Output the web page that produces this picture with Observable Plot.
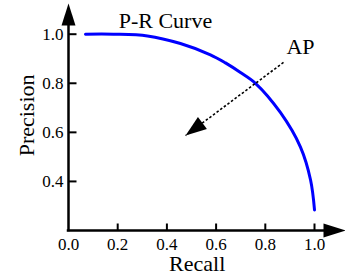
<!DOCTYPE html>
<html><head><meta charset="utf-8">
<script src="https://cdn.jsdelivr.net/npm/d3@7"></script>
<script src="https://cdn.jsdelivr.net/npm/@observablehq/plot@0.6"></script>
<style>body{margin:0;background:#fff} svg{display:block} svg text{font-family:'Liberation Serif','Times New Roman',serif}</style>
</head><body><div id="chart"></div>
<script>
// P-R curve
const recall    = [0.069, 0.183, 0.321, 0.455, 0.577, 0.638, 0.699, 0.760, 0.862, 0.943, 0.984, 1.000];
const precision = [1.000, 1.000, 0.993, 0.962, 0.916, 0.883, 0.844, 0.800, 0.680, 0.540, 0.406, 0.284];

const xTicks = [0, 0.2, 0.4, 0.6, 0.8, 1.0];
const xTickLabels = ["0.0", "0.2", "0.4", "0.6", "0.8", "1.0"];
const yTicks = [0.4, 0.6, 0.8, 1.0];
const yTickLabels = ["0.4", "0.6", "0.8", "1.0"];

const annotText = ["P-R Curve", "AP"];
const annotX = [0.394, 0.943];
const annotY = [1.056, 0.950];

const apFrom = [0.874, 0.885];
const apTo = [0.476, 0.587];

const xDomain = [0, 1];
const yDomain = [0.2, 1];
const xTip = 1.126;
const yTip = 1.125;

const FONT = "'Liberation Serif', 'Times New Roman', serif";
const W = 345, H = 275, mL = 68, mR = 31, mT = 33.7, mB = 45;
const sx = (W - mL - mR) / (xDomain[1] - xDomain[0]);
const sy = (H - mT - mB) / (yDomain[1] - yDomain[0]);

function tri(angle, len, halfW) {
  return {
    draw(ctx) {
      const c = Math.cos(angle), s = Math.sin(angle);
      const bx = -len * c, by = -len * s;
      const px = -s * halfW, py = c * halfW;
      ctx.moveTo(0, 0);
      ctx.lineTo(bx + px, by + py);
      ctx.lineTo(bx - px, by - py);
      ctx.closePath();
    }
  };
}
const yTickSym = {draw(ctx) { ctx.moveTo(0, 0); ctx.lineTo(8, 0); }};
const xTickSym = {draw(ctx) { ctx.moveTo(0, 0); ctx.lineTo(0, -7); }};

const apAngle = Math.atan2(-(apTo[1] - apFrom[1]) * sy, (apTo[0] - apFrom[0]) * sx);

const curve = recall.map((r, i) => ({r, p: precision[i]}));
const annots = annotText.map((t, i) => ({t, x: annotX[i], y: annotY[i]}));
const xt = xTicks.map((v, i) => ({v, l: xTickLabels[i]}));
const yt = yTicks.map((v, i) => ({v, l: yTickLabels[i]}));

const chart = Plot.plot({
  width: W, height: H,
  marginLeft: mL, marginRight: mR, marginTop: mT, marginBottom: mB,
  x: {domain: xDomain, axis: null},
  y: {domain: yDomain, axis: null},
  style: {fontFamily: FONT, background: "white", overflow: "visible", color: "black"},
  marks: [
    // axes
    Plot.ruleX([0], {y1: yDomain[0], y2: yTip - 0.05, stroke: "black", strokeWidth: 2.5, strokeLinecap: "square"}),
    Plot.ruleY([yDomain[0]], {x1: 0, x2: xTip - 0.05, stroke: "black", strokeWidth: 2.5, strokeLinecap: "square"}),
    Plot.dot([0], {x: 0, y: yTip, symbol: tri(-Math.PI / 2, 22, 7), fill: "black", stroke: "none"}),
    Plot.dot([0], {x: xTip, y: yDomain[0], symbol: tri(0, 22, 7), fill: "black", stroke: "none"}),
    // ticks
    Plot.dot(yt, {x: 0, y: "v", symbol: yTickSym, fill: "none", stroke: "black", strokeWidth: 2}),
    Plot.dot(xt.filter(d => d.v > 0), {x: "v", y: yDomain[0], symbol: xTickSym, fill: "none", stroke: "black", strokeWidth: 2}),
    Plot.text(yt, {x: 0, y: "v", text: "l", dx: -5, textAnchor: "end", fontSize: 17, fontFamily: FONT, fill: "black"}),
    Plot.text(xt, {x: "v", y: yDomain[0], text: "l", dy: 13.6, fontSize: 17, fontFamily: FONT, fill: "black"}),
    // axis labels
    Plot.text(["Recall"], {x: 0.523, y: yDomain[0], text: d => d, dy: 33, fontSize: 22, fontFamily: FONT, fill: "black"}),
    Plot.text(["Precision"], {x: 0, y: 0.669, text: d => d, dx: -42, rotate: -90, fontSize: 22, fontFamily: FONT, fill: "black"}),
    // curve
    Plot.line(curve, {x: "r", y: "p", stroke: "#0000ff", strokeWidth: 3, curve: "catmull-rom"}),
    // AP arrow
    Plot.link([0], {x1: apFrom[0], y1: apFrom[1], x2: apTo[0], y2: apTo[1], stroke: "black", strokeWidth: 1.6, strokeDasharray: "2.5,2"}),
    Plot.dot([0], {x: apTo[0], y: apTo[1], symbol: tri(apAngle, 21, 7.5), fill: "black", stroke: "none"}),
    // annotations
    Plot.text(annots, {x: "x", y: "y", text: "t", fontSize: 22, fontFamily: FONT, fill: "black"})
  ]
});
document.getElementById("chart").appendChild(chart);
</script>
</body></html>
